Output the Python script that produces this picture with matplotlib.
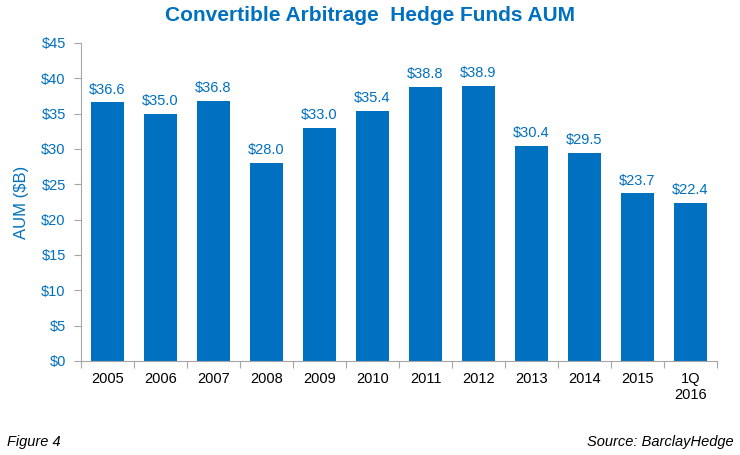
import matplotlib.pyplot as plt
import numpy as np

plt.rcParams['font.family'] = ['Liberation Sans', 'DejaVu Sans']

# data
years = ['2005', '2006', '2007', '2008', '2009', '2010', '2011', '2012',
         '2013', '2014', '2015', '1Q\n2016']
aum = [36.6, 35.0, 36.8, 28.0, 33.0, 35.4, 38.8, 38.9, 30.4, 29.5, 23.7, 22.4]
yticks = [0, 5, 10, 15, 20, 25, 30, 35, 40, 45]

blue = '#0070C0'
grey = '#A6A6A6'

fig = plt.figure(figsize=(7.4, 4.55), dpi=100)
ax = fig.add_axes([0.1095, 0.2066, 0.8595, 0.699])

x = np.arange(len(years))
bars = ax.bar(x, aum, width=0.63, color=blue, zorder=2)
for xi, v in zip(x, aum):
    ax.text(xi, v + 0.8, '$%.1f' % v, ha='center', va='bottom',
            color=blue, fontsize=10.5)

ax.set_xlim(-0.5, len(years) - 0.5)
ax.set_ylim(0, 45)
ax.set_yticks(yticks)
ax.set_yticklabels(['$%d' % t for t in yticks], color=blue, fontsize=10.5)

# x ticks at category boundaries, labels centered
ax.set_xticks(np.arange(-0.5, len(years)), minor=False)
ax.set_xticklabels([])
ax.set_xticks(x, minor=True)
ax.set_xticklabels(years, minor=True, fontsize=10.5)
ax.tick_params(axis='x', which='minor', length=0, pad=8)
ax.tick_params(axis='x', which='major', length=5, color=grey)
ax.tick_params(axis='y', length=5, color=grey, pad=6)

for s in ['top', 'right']:
    ax.spines[s].set_visible(False)
ax.spines['left'].set_color(grey)
ax.spines['bottom'].set_color(grey)

ax.set_ylabel('AUM ($B)', color=blue, fontsize=12, labelpad=9)

fig.text(0.5, 0.965, 'Convertible Arbitrage  Hedge Funds AUM', ha='center',
         va='center', color=blue, fontsize=15, fontweight='bold')
fig.text(0.009, 0.028, 'Figure 4', ha='left', va='center', fontsize=10.5,
         style='italic')
fig.text(0.991, 0.028, 'Source: BarclayHedge', ha='right', va='center',
         fontsize=10.5, style='italic')

plt.savefig('out.png', dpi=100)
